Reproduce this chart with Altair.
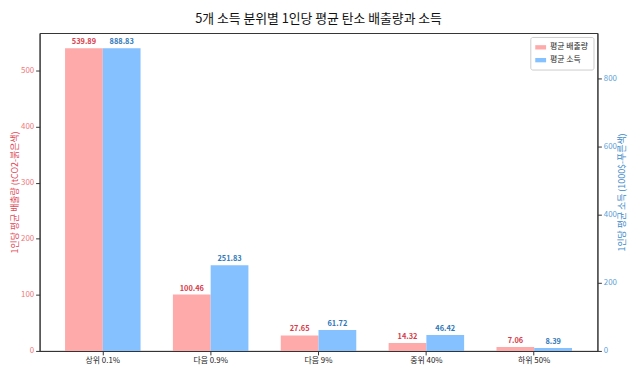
import altair as alt
import pandas as pd

categories = ["상위 0.1%", "다음 0.9%", "다음 9%", "중위 40%", "하위 50%"]
emissions = [539.89, 100.46, 27.65, 14.32, 7.06]
incomes = [888.83, 251.83, 61.72, 46.42, 8.39]
series = ["평균 배출량", "평균 소득"]

FONT = "Noto Sans CJK KR"
PINK = "#ffaaaa"
BLUE = "#85c1ff"

df_e = pd.DataFrame({"cat": categories, "value": emissions, "series": series[0]})
df_i = pd.DataFrame({"cat": categories, "value": incomes, "series": series[1]})
df_e["label"] = df_e["value"].map(lambda v: f"{v:.2f}")
df_i["label"] = df_i["value"].map(lambda v: f"{v:.2f}")

x_enc = alt.X("cat:N", sort=categories, title=None,
              scale=alt.Scale(paddingInner=0.3, paddingOuter=0.236),
              axis=alt.Axis(labelAngle=0, labelFont=FONT, labelFontSize=8,
                            labelColor="#222", domainColor="#333", tickColor="#333",
                            tickSize=4, labelPadding=2))
xoff = alt.XOffset("series:N", scale=alt.Scale(domain=series, paddingInner=0, paddingOuter=0))
color = alt.Color("series:N", scale=alt.Scale(domain=series, range=[PINK, BLUE]),
                  legend=alt.Legend(title=None, orient="top-right", offset=4,
                                    labelFont=FONT, labelFontSize=8, labelColor="#222",
                                    symbolType="M-1,-0.4L1,-0.4L1,0.4L-1,0.4Z",
                                    symbolSize=120, symbolStrokeWidth=0,
                                    strokeColor="#ccc", fillColor="white",
                                    padding=5, cornerRadius=2, rowPadding=3))

y_e = alt.Y("value:Q", scale=alt.Scale(domain=[0, 566.9], nice=False),
            axis=alt.Axis(title="1인당 평균 배출량 (tCO2-붉은색)", values=[0, 100, 200, 300, 400, 500],
                          titleColor="#e04858", titleFont=FONT, titleFontSize=9, titleFontWeight="normal",
                          labelColor="#f07878", labelFont=FONT, labelFontSize=8,
                          grid=False, domainColor="#333", tickColor="#333", tickSize=4,
                          titlePadding=1))
y_i = alt.Y("value:Q", scale=alt.Scale(domain=[0, 933.3], nice=False),
            axis=alt.Axis(title="1인당 평균 소득 (1000$-푸른색)", orient="right",
                          values=[0, 200, 400, 600, 800], titleAngle=270,
                          titleBaseline="middle", titleAlign="center", titleX=24, titleY=161,
                          titleColor="#3a88c8", titleFont=FONT, titleFontSize=9, titleFontWeight="normal",
                          labelColor="#5a9fd8", labelFont=FONT, labelFontSize=8,
                          grid=False, domainColor="#333", tickColor="#333", tickSize=4))

bars_e = alt.Chart(df_e).mark_bar().encode(x=x_enc, xOffset=xoff, y=y_e, color=color)
text_e = alt.Chart(df_e).mark_text(dy=-6, fontSize=7.5, fontWeight="bold", font=FONT,
                                   color="#d93a48").encode(x=x_enc, xOffset=xoff, y=y_e, text="label:N")
bars_i = alt.Chart(df_i).mark_bar().encode(x=x_enc, xOffset=xoff, y=y_i, color=color)
text_i = alt.Chart(df_i).mark_text(dy=-6, fontSize=7.5, fontWeight="bold", font=FONT,
                                   color="#2f78b8").encode(x=x_enc, xOffset=xoff, y=y_i, text="label:N")

chart = alt.layer(alt.layer(bars_e, text_e), alt.layer(bars_i, text_i)).resolve_scale(
    y="independent"
).properties(
    width=565, height=322,
    title=alt.TitleParams("5개 소득 분위별 1인당 평균 탄소 배출량과 소득", font=FONT,
                          fontSize=13, fontWeight="normal", color="#111", offset=7),
    autosize=alt.AutoSizeParams(type="none"),
    padding={"left": 32, "top": 23, "right": 35, "bottom": 19},
).configure_view(stroke="#333", strokeWidth=1)

chart.save("out.html", embed_options={"renderer": "svg", "actions": False})
